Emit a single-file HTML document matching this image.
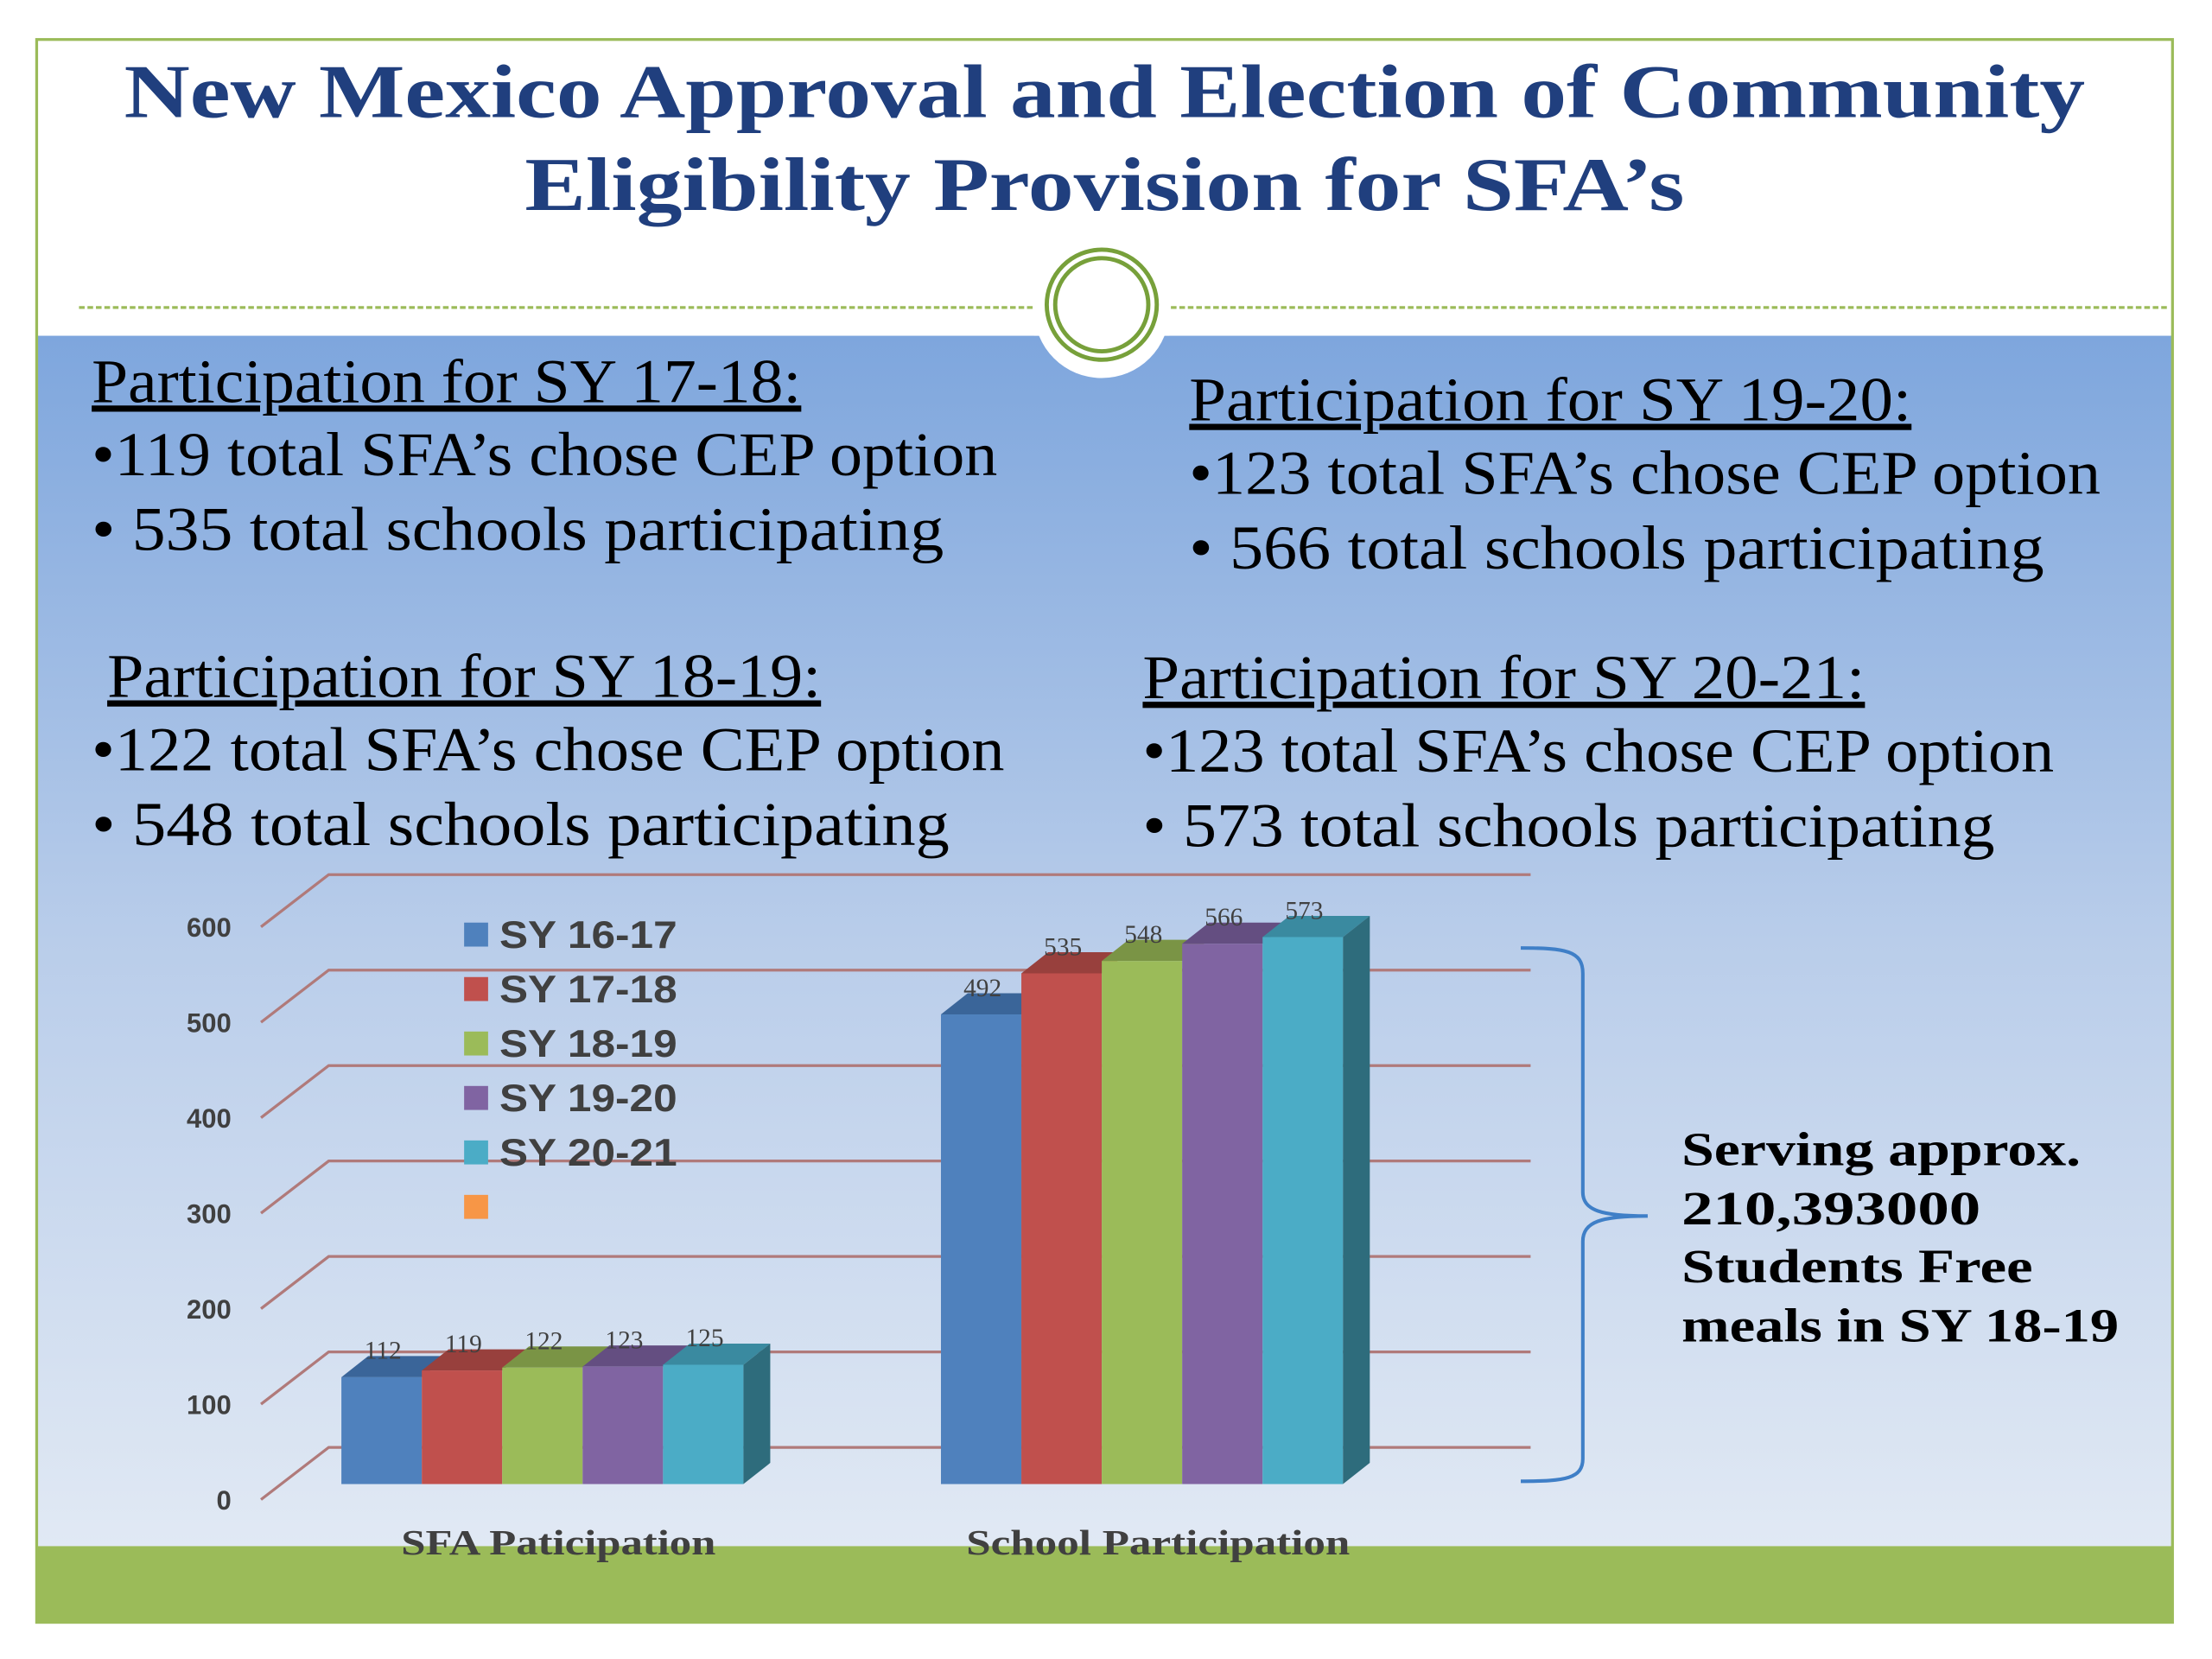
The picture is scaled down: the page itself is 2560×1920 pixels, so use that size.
<!DOCTYPE html>
<html><head><meta charset="utf-8"><style>
html,body{margin:0;padding:0;background:#fff;}
svg{display:block;}
.hd{font-family:"Liberation Serif",serif;font-size:44px;fill:#000;}
</style></head><body>
<svg id="root" width="2560" height="1920" viewBox="0 0 1568 1176" preserveAspectRatio="none" xmlns="http://www.w3.org/2000/svg">
<defs>
<linearGradient id="bg" x1="0" y1="0" x2="0" y2="1">
<stop offset="0" stop-color="#7ea6dd"/><stop offset="0.5" stop-color="#b9cdea"/><stop offset="1" stop-color="#e1e9f4"/>
</linearGradient>
</defs>
<rect x="0" y="0" width="1568" height="1176" fill="#fff"/>
<rect x="26" y="238" width="1514" height="858" fill="url(#bg)"/>
<rect x="26" y="1096" width="1514" height="54" fill="#9bbb59"/>
<rect x="26" y="28" width="1514" height="1122" fill="none" stroke="#9bbb59" stroke-width="2"/>
<line x1="56" y1="218" x2="1538" y2="218" stroke="#9bbb59" stroke-width="2" stroke-dasharray="4,2"/>
<circle cx="781" cy="220" r="48" fill="#fff"/>
<rect x="733" y="200" width="96" height="38" fill="#fff"/>
<circle cx="781" cy="216" r="39" fill="none" stroke="#77a03a" stroke-width="3"/>
<circle cx="781" cy="216" r="33" fill="none" stroke="#77a03a" stroke-width="3"/>

<g font-family="Liberation Serif, serif" font-weight="bold" font-size="54" fill="#203f7e" text-anchor="middle">
<text x="783" y="83" textLength="1390" lengthAdjust="spacingAndGlyphs">New Mexico Approval and Election of Community</text>
<text x="783" y="149" textLength="822" lengthAdjust="spacingAndGlyphs">Eligibility Provision for SFA’s</text>
</g>

<g class="hd">
<text x="65" y="285" text-decoration="underline" textLength="503" lengthAdjust="spacingAndGlyphs">Participation for SY 17-18:</text>
<text x="65" y="337" textLength="642" lengthAdjust="spacingAndGlyphs">•119 total SFA’s chose CEP option</text>
<text x="65" y="390" textLength="604" lengthAdjust="spacingAndGlyphs">• 535 total schools participating</text>
</g>
<g class="hd">
<text x="843" y="298" text-decoration="underline" textLength="512" lengthAdjust="spacingAndGlyphs">Participation for SY 19-20:</text>
<text x="843" y="350" textLength="646" lengthAdjust="spacingAndGlyphs">•123 total SFA’s chose CEP option</text>
<text x="843" y="403" textLength="606" lengthAdjust="spacingAndGlyphs">• 566 total schools participating</text>
</g>
<g class="hd">
<text x="76" y="494" text-decoration="underline" textLength="506" lengthAdjust="spacingAndGlyphs">Participation for SY 18-19:</text>
<text x="65" y="546" textLength="647" lengthAdjust="spacingAndGlyphs">•122 total SFA’s chose CEP option</text>
<text x="65" y="599" textLength="608" lengthAdjust="spacingAndGlyphs">• 548 total schools participating</text>
</g>
<g class="hd">
<text x="810" y="495" text-decoration="underline" textLength="512" lengthAdjust="spacingAndGlyphs">Participation for SY 20-21:</text>
<text x="810" y="547" textLength="646" lengthAdjust="spacingAndGlyphs">•123 total SFA’s chose CEP option</text>
<text x="810" y="600" textLength="604" lengthAdjust="spacingAndGlyphs">• 573 total schools participating</text>
</g>

<g id="chart"></g>

<path d="M1078,672 C1110,672 1122,674 1122,690 L1122,845 C1122,858 1135,862 1168,862 C1135,862 1122,866 1122,880 L1122,1034 C1122,1048 1110,1050 1078,1050" fill="none" stroke="#3f7fc7" stroke-width="2.5"/>
<g font-family="Liberation Serif, serif" font-weight="bold" font-size="34" fill="#000">
<text x="1192" y="826" textLength="283" lengthAdjust="spacingAndGlyphs">Serving approx.</text>
<text x="1192" y="868" textLength="212" lengthAdjust="spacingAndGlyphs">210,393000</text>
<text x="1192" y="909" textLength="249" lengthAdjust="spacingAndGlyphs">Students Free</text>
<text x="1192" y="951" textLength="310" lengthAdjust="spacingAndGlyphs">meals in SY 18-19</text>
</g>
</svg>
<script>
const categories = ["SFA Paticipation", "School Participation"];
const seriesNames = ["SY 16-17", "SY 17-18", "SY 18-19", "SY 19-20", "SY 20-21"];
const sy1617 = [112, 492];
const sy1718 = [119, 535];
const sy1819 = [122, 548];
const sy1920 = [123, 566];
const sy2021 = [125, 573];
const yTicks = [0, 100, 200, 300, 400, 500, 600];

const series = [sy1617, sy1718, sy1819, sy1920, sy2021];
const colors = ["#4f81bd", "#c0504d", "#9bbb59", "#8064a2", "#4bacc6"];
const tops = ["#3a6599", "#98403d", "#7a9445", "#644e81", "#3a8aa0"];
const catLen = [223, 272];
const NS = "http://www.w3.org/2000/svg";
const g = document.getElementById("chart");
const scale = 406 / 600;
const yBack = v => 1026 - v * scale;
const yFront = v => 1052 - v * scale;
const DX = 19, DY = -15;
function mk(tag, attrs, parent) {
  const e = document.createElementNS(NS, tag);
  for (const k in attrs) e.setAttribute(k, attrs[k]);
  (parent || g).appendChild(e);
  return e;
}
yTicks.forEach(t => {
  const yb = yBack(t);
  const l = mk("polyline", {points: `185,${yb+37} 233,${yb} 1085,${yb}`, fill: "none", stroke: "#b07a7a", "stroke-width": 2});
  
  
  const tx = mk("text", {x: 164, y: yb + 44, "text-anchor": "end", "font-family": "Liberation Sans, sans-serif", "font-weight": "bold", "font-size": 19, fill: "#404040"});
  tx.textContent = t;
  
  
});
const groupX = [242, 667];
const bw = 57;
categories.forEach((c, ci) => {
  series.forEach((s, si) => {
    const v = s[ci];
    const x = groupX[ci] + si * bw;
    const yt = yFront(v);
    const top = mk("polygon", {points: `${x},${yt} ${x+DX},${yt+DY} ${x+bw+DX},${yt+DY} ${x+bw},${yt}`, fill: tops[si]});
    
    
    const r = mk("rect", {x: x, y: yt, width: bw, height: 1052 - yt, fill: colors[si]});
    
    
    if (si === series.length - 1) {
      const side = mk("polygon", {points: `${x+bw},${yt} ${x+bw+DX},${yt+DY} ${x+bw+DX},${1052+DY} ${x+bw},1052`, fill: "#2e6c7c"});
      
      
    }
    const lb = mk("text", {x: x + bw/2 + 1, y: yt + DY + 2, "text-anchor": "middle", "font-family": "Liberation Serif, serif", "font-size": 18, fill: "#404040"});
    lb.textContent = v;
    
    
  });
  const cl = mk("text", {x: groupX[ci] + bw * 2.7, y: 1102, "text-anchor": "middle", "font-family": "Liberation Serif, serif", "font-weight": "bold", "font-size": 25, fill: "#404040", textLength: ci === 0 ? 223 : 272, lengthAdjust: "spacingAndGlyphs"});
  cl.textContent = c;
  
  
});
seriesNames.forEach((n, i) => {
  const y = 662 + i * 38.6;
  const sw = mk("rect", {x: 329, y: y - 8, width: 17, height: 17, fill: colors[i]});
  
  
  const t = mk("text", {x: 354, y: y + 10, "font-family": "Liberation Sans, sans-serif", "font-weight": "bold", "font-size": 27, fill: "#404040", textLength: 126, lengthAdjust: "spacingAndGlyphs"});
  t.textContent = n;
  
  
});
const ex = mk("rect", {x: 329, y: 847, width: 17, height: 17, fill: "#f79646"});


</script>
</body></html>
